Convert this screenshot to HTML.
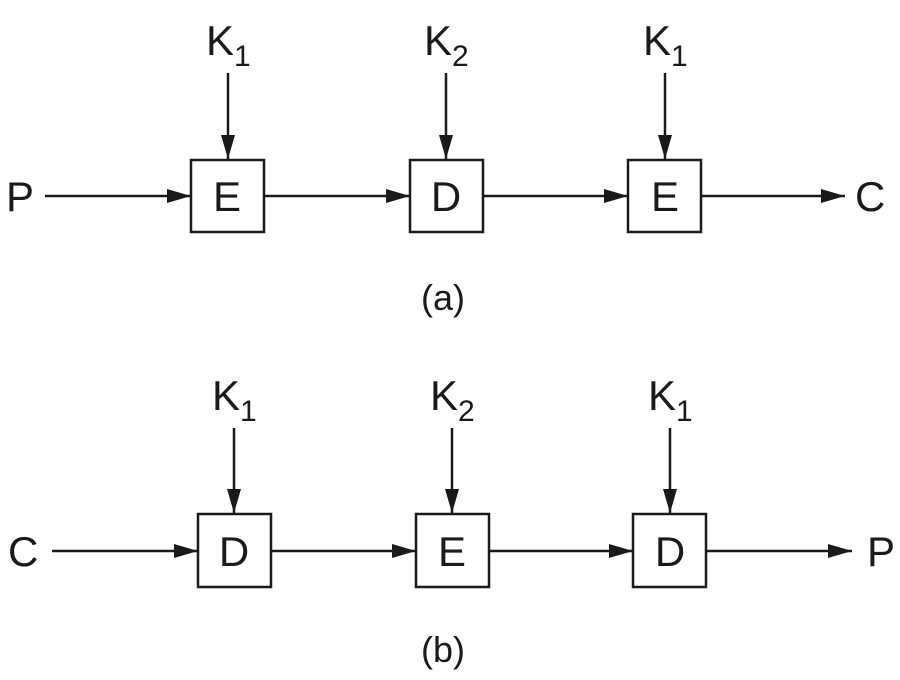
<!DOCTYPE html>
<html><head><style>body{margin:0;background:#fff}</style></head><body>
<svg width="900" height="675" xmlns="http://www.w3.org/2000/svg" font-family="Liberation Sans, sans-serif" fill="#1a1a1a">
<defs><marker id="a" markerWidth="24" markerHeight="14" refX="24" refY="7" orient="auto" markerUnits="userSpaceOnUse"><path d="M0,0 L24,7 L0,14 z" fill="#1a1a1a"/></marker></defs>
<g stroke="#1a1a1a" stroke-width="2.5" fill="none">
<rect x="191" y="160" width="73" height="72"/><rect x="410" y="160" width="73" height="72"/><rect x="628" y="160" width="73" height="72"/>
<line x1="45" y1="196" x2="191" y2="196" marker-end="url(#a)"/>
<line x1="264" y1="196" x2="410" y2="196" marker-end="url(#a)"/>
<line x1="483" y1="196" x2="628" y2="196" marker-end="url(#a)"/>
<line x1="701" y1="196" x2="845" y2="196" marker-end="url(#a)"/>
<line x1="228" y1="73" x2="228" y2="159" marker-end="url(#a)"/>
<line x1="446" y1="73" x2="446" y2="159" marker-end="url(#a)"/>
<line x1="665" y1="73" x2="665" y2="159" marker-end="url(#a)"/>
<rect x="198" y="514" width="73" height="73"/><rect x="416" y="514" width="73" height="73"/><rect x="633" y="514" width="73" height="73"/>
<line x1="52" y1="551" x2="198" y2="551" marker-end="url(#a)"/>
<line x1="271" y1="551" x2="416" y2="551" marker-end="url(#a)"/>
<line x1="489" y1="551" x2="633" y2="551" marker-end="url(#a)"/>
<line x1="706" y1="551" x2="852" y2="551" marker-end="url(#a)"/>
<line x1="234" y1="428" x2="234" y2="513" marker-end="url(#a)"/>
<line x1="452" y1="428" x2="452" y2="513" marker-end="url(#a)"/>
<line x1="670" y1="428" x2="670" y2="513" marker-end="url(#a)"/>
</g>
<g font-size="42">
<text x="6" y="211">P</text><text x="855" y="211">C</text>
<text x="227" y="211" text-anchor="middle">E</text><text x="446" y="211" text-anchor="middle">D</text><text x="665" y="211" text-anchor="middle">E</text>
<text x="8" y="566">C</text><text x="867" y="566">P</text>
<text x="234" y="566" text-anchor="middle">D</text><text x="452" y="566" text-anchor="middle">E</text><text x="670" y="566" text-anchor="middle">D</text>
<text x="206" y="55">K<tspan font-size="30" dy="11">1</tspan></text>
<text x="424" y="55">K<tspan font-size="30" dy="11">2</tspan></text>
<text x="643" y="55">K<tspan font-size="30" dy="11">1</tspan></text>
<text x="212" y="410">K<tspan font-size="30" dy="11">1</tspan></text>
<text x="430" y="410">K<tspan font-size="30" dy="11">2</tspan></text>
<text x="648" y="410">K<tspan font-size="30" dy="11">1</tspan></text>
<text x="443" y="310" text-anchor="middle" font-size="36">(a)</text>
<text x="443" y="662" text-anchor="middle" font-size="36">(b)</text>
</g>
</svg>
</body></html>
